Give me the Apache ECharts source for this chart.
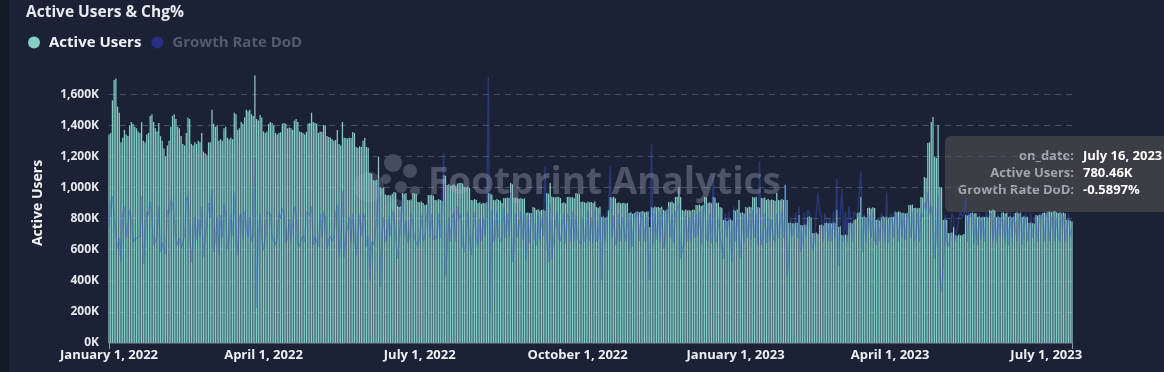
<!DOCTYPE html>
<html>
<head>
<meta charset="utf-8">
<script src="https://cdn.jsdelivr.net/npm/echarts@6/dist/echarts.min.js"></script>
<style>
html,body{margin:0;padding:0;background:#1b2236;}
#chart{width:1164px;height:372px;}
</style>
</head>
<body>
<div id="chart"></div>
<script>
// ---- data ----
const startDate = '2022-01-01';
const dayCount = 562; // Jan 1, 2022 .. Jul 16, 2023
const xTickDates = ['2022-01-01','2022-04-01','2022-07-01','2022-10-01','2023-01-01','2023-04-01','2023-07-01'];
const xTickLabels = ['January 1, 2022','April 1, 2022','July 1, 2022','October 1, 2022','January 1, 2023','April 1, 2023','July 1, 2023'];
const yTickValues = [0,200,400,600,800,1000,1200,1400,1600]; // thousands

// Active users (thousands), one per day
const activeUsers = [
1340,1350,1560,1690,1700,1520,1480,1290,1320,1370,
1340,1330,1400,1420,1410,1390,1380,1360,1350,1420,
1300,1290,1340,1350,1460,1470,1420,1380,1360,1415,
1330,1300,1250,1200,1270,1300,1390,1460,1470,1440,
1390,1380,1330,1280,1270,1350,1450,1440,1280,1270,
1290,1280,1300,1290,1350,1230,1220,1210,1290,1290,
1500,1410,1390,1400,1300,1310,1300,1380,1390,1320,
1310,1320,1310,1480,1470,1370,1380,1420,1410,1450,
1500,1490,1500,1470,1460,1720,1440,1430,1466,1450,
1360,1350,1360,1410,1420,1415,1400,1350,1340,1350,
1355,1410,1415,1410,1380,1385,1380,1370,1430,1440,
1420,1360,1357,1350,1340,1357,1410,1415,1480,1420,
1415,1410,1350,1360,1357,1400,1400,1330,1325,1320,
1310,1300,1305,1370,1280,1270,1420,1320,1318,1315,
1320,1318,1357,1350,1260,1255,1265,1260,1300,1318,
1260,1255,1093,1090,1048,1045,1050,1196,1003,995,
1000,955,950,952,948,960,971,968,880,874,
878,964,960,962,920,918,922,964,960,958,
907,905,910,900,887,890,952,950,955,948,
920,918,925,920,915,1080,1075,1016,1020,1010,
1016,1020,1010,1025,1029,1030,1025,1003,1000,1005,
998,920,918,925,920,900,905,895,900,898,
905,964,960,955,920,918,925,920,915,900,
932,930,935,932,1029,1020,932,935,930,928,
932,925,930,836,840,835,836,874,870,855,
860,850,855,858,852,964,960,1029,940,938,
935,940,938,932,900,905,898,938,940,935,
938,930,964,960,958,907,910,905,900,910,
905,907,900,910,874,870,878,810,815,805,
812,855,938,935,940,930,900,905,898,900,
902,895,900,836,840,830,836,843,845,840,
843,848,840,843,845,746,874,870,878,872,
874,870,876,855,850,858,907,905,910,900,
938,940,1003,938,855,850,858,852,855,850,
858,855,887,885,890,880,887,938,935,900,
905,898,938,935,900,902,874,870,791,795,
785,790,795,788,855,850,858,920,836,840,
832,874,870,878,872,938,935,940,874,870,
932,930,935,920,925,918,922,920,915,964,
920,918,925,920,1016,920,772,775,770,768,
775,772,823,759,755,762,760,810,815,808,
707,705,710,700,759,762,755,772,775,770,
772,768,775,770,855,746,750,694,690,698,
692,772,775,770,791,795,836,840,938,810,
815,808,868,870,865,872,868,791,795,788,
810,815,808,812,805,810,810,812,843,840,
845,843,836,838,832,836,887,885,890,868,
870,865,868,938,935,1067,1060,1286,1290,1420,
1453,1196,1190,1402,1003,1000,791,795,790,707,
705,710,746,694,690,698,692,695,700,823,
820,825,836,838,832,836,810,815,808,812,
810,812,808,855,850,858,852,810,815,808,
836,840,832,838,810,815,808,812,836,840,
832,838,810,815,808,812,772,775,770,768,
823,820,825,823,836,840,832,843,845,840,
843,848,840,836,840,832,838,834,791,795,
788,780.46
];

// Growth rate day over day (%), one per day
const growthRate = [
0,14,18,6,-4,-12,-6,-20,8,12,
-6,-7,10,5,-8,-8,-6,-6,-5,18,
-21,-6,9,7,15,6,-10,-8,-5,12,
-14,-9,-12,-15,10,8,16,14,5,-7,
-10,-6,-12,-11,-5,16,18,-4,-20,-6,
6,-7,5,-6,12,-17,-6,-7,14,5,
22,-14,-6,6,-16,7,-6,14,6,-12,
-6,7,-5,20,-5,-16,6,8,-7,9,
8,-6,6,-8,-5,40,-46,-5,8,-6,
-13,-6,9,10,8,-5,-7,-10,-6,9,
5,11,8,-9,-6,5,-8,-9,12,9,
-9,-11,-7,-5,-8,9,10,7,12,-10,
-5,-8,-11,8,-6,9,6,-12,-7,-5,
-8,-6,8,13,-17,-7,21,-17,-5,-6,
6,-8,8,-6,-16,-5,8,-5,8,5,
-11,-5,-30,-8,-10,-5,7,28,-34,-5,
6,-8,-5,6,-5,9,7,-5,-18,-7,
5,17,-5,4,-9,-6,8,9,-6,-5,
-11,-5,7,-8,-5,6,14,-6,8,-7,
-6,-5,8,-6,-5,43,-28,-12,6,-8,
6,9,-8,12,5,8,-10,-14,-6,9,
-7,-16,-4,9,-6,-11,5,-8,6,-5,
8,86,-49,10,-8,-6,9,-5,-8,-6,
12,-6,8,-5,20,-20,-10,8,-6,-5,
9,-7,8,-19,7,-9,5,9,-6,-10,
8,-7,6,-5,35,-6,-20,14,-18,-6,
-5,9,-6,-8,-7,8,-9,8,6,-8,
9,-8,7,-6,-5,-10,6,-8,-5,10,
-8,6,-9,10,-8,-6,8,-30,7,-8,
8,10,35,-6,7,-10,-7,8,-8,6,
5,-8,9,-14,7,-11,8,6,9,-8,
8,5,-8,6,5,-30,48,-10,8,-7,
9,-8,10,-12,-8,9,12,-6,8,-9,
8,9,14,-18,-17,-8,7,-8,6,-8,
9,-6,8,-5,9,-10,8,14,-6,-8,
8,-9,30,-6,-8,6,-6,-5,-18,8,
-6,9,8,-20,12,-8,9,10,-18,8,
-9,9,-6,8,-7,10,-6,8,-10,38,
-10,-6,8,-9,6,-8,5,-6,-8,8,
-6,-5,9,-6,25,-28,-18,6,-5,-6,
8,-6,12,-14,-8,9,-5,10,8,-7,
-13,-6,8,20,9,6,-8,8,5,-8,
6,-8,9,-6,28,-22,8,22,-8,9,
-8,12,6,-8,9,8,6,6,32,-14,
8,-8,8,6,-6,9,-7,-10,6,-8,
8,5,-8,20,-9,6,8,-6,10,5,
-8,9,-6,8,-7,6,8,-6,9,-8,
-5,9,-8,8,6,14,10,20,8,12,
4,-18,-5,18,-30,-37,-21,7,-8,-11,
-6,8,6,-8,-7,5,9,6,8,18,
-8,9,6,8,-9,5,-10,8,-7,6,
-8,9,6,5,8,-8,6,-9,8,-5,
9,8,-8,6,-10,9,-6,8,9,-8,
6,8,-10,5,8,-8,-9,8,-6,5,
7,-8,6,8,5,-8,9,6,-8,5,
8,-8,6,-5,-8,9,6,-8,-7,8,
-5,-0.5897
];

// ---- build categories ----
const monthNames = ['January','February','March','April','May','June','July','August','September','October','November','December'];
const dates = [];
(function(){
  const d0 = new Date(startDate + 'T00:00:00Z');
  for (let i = 0; i < dayCount; i++) {
    const d = new Date(d0.getTime() + i * 86400000);
    const y = d.getUTCFullYear(), m = d.getUTCMonth() + 1, dd = d.getUTCDate();
    dates.push(y + '-' + String(m).padStart(2,'0') + '-' + String(dd).padStart(2,'0'));
  }
})();
function longDate(s){ const p = s.split('-'); return monthNames[+p[1]-1] + ' ' + (+p[2]) + ', ' + p[0]; }

const FONT = 'Open Sans';
const chart = echarts.init(document.getElementById('chart'), null, {renderer:'canvas'});
const last = dayCount - 1;
const tipFontL = 'bold 13px "Open Sans"';

const option = {
  backgroundColor: '#1b2236',
  animation: false,
  title: {
    text: 'Active Users & Chg%', left: 21, top: 0,
    textStyle: {color:'#e8eaee', fontSize: 15.5, fontWeight: 'bold', fontFamily: FONT}
  },
  legend: {
    left: 23, top: 30, icon: 'circle', itemWidth: 20, itemHeight: 12, itemGap: 10,
    textStyle: {fontSize: 15, fontWeight: 'bold', fontFamily: FONT},
    data: [
      {name: 'Active Users', textStyle: {color: '#f2f4f7'}},
      {name: 'Growth Rate DoD', textStyle: {color: '#545b6d'}}
    ]
  },
  grid: {left: 109, right: 92, top: 63, bottom: 29, containLabel: false},
  xAxis: {
    type: 'category', data: dates, boundaryGap: false,
    axisLine: {show: true, lineStyle: {color: '#4a5163', width: 1}},
    axisTick: {show: true, length: 6, lineStyle: {color: '#8a909c'}, interval: function(i){ return i === 0 || i === last; }},
    axisLabel: {
      color: '#eef0f4', fontSize: 13, fontWeight: 'bold', fontFamily: FONT, margin: 6,
      interval: function(i, v){ return xTickDates.indexOf(v) >= 0; },
      formatter: function(v){ const k = xTickDates.indexOf(v); return k >= 0 ? xTickLabels[k] : ''; }
    },
    splitLine: {show: false}
  },
  yAxis: [
    {
      type: 'value', min: 0, max: 1800, interval: 200,
      name: 'Active Users', nameLocation: 'middle', nameGap: 64, nameRotate: 90,
      nameTextStyle: {color: '#f0f2f5', fontSize: 14, fontWeight: 'bold', fontFamily: FONT},
      axisLine: {show: false}, axisTick: {show: false},
      axisLabel: {
        color: '#e6e8ec', fontSize: 12, fontWeight: 'bold', fontFamily: FONT, margin: 10, showMaxLabel: false,
        formatter: function(v){ return yTickValues.indexOf(v) >= 0 ? v.toLocaleString('en-US') + 'K' : ''; }
      },
      splitLine: {show: true, showMaxLine: false, lineStyle: {color: '#465068', type: [6,5], width: 1}}
    },
    {
      type: 'value', min: -66, max: 94, show: false, splitLine: {show: false}
    }
  ],
  series: [
    {
      name: 'Active Users', type: 'bar', data: activeUsers, yAxisIndex: 0,
      barWidth: 1.25,
      itemStyle: {color: '#86cdc5'},
      silent: true
    },
    {
      name: 'Growth Rate DoD', type: 'line', data: growthRate, yAxisIndex: 1,
      showSymbol: false, symbol: 'none', smooth: false,
      itemStyle: {color: '#262f80'},
      lineStyle: {color: 'rgba(62,86,200,0.42)', width: 1.4},
      silent: true
    }
  ],
  graphic: [
    {type: 'rect', left: 0, top: 0, z: -1, shape: {width: 9, height: 372}, style: {fill: '#141a28'}},
    // watermark
    {type: 'group', left: 354, top: 154, z: 50, children: [
      {type: 'circle', shape: {cx: 14, cy: 38, r: 15}, style: {fill: 'rgba(190,196,210,0.18)'}},
      {type: 'circle', shape: {cx: 38, cy: 14, r: 9}, style: {fill: 'rgba(190,196,210,0.26)'}},
      {type: 'circle', shape: {cx: 55, cy: 22, r: 7}, style: {fill: 'rgba(190,196,210,0.26)'}},
      {type: 'circle', shape: {cx: 46, cy: 38, r: 6}, style: {fill: 'rgba(190,196,210,0.26)'}},
      {type: 'circle', shape: {cx: 31, cy: 30, r: 5}, style: {fill: 'rgba(190,196,210,0.26)'}},
      {type: 'circle', shape: {cx: 60, cy: 42, r: 5}, style: {fill: 'rgba(190,196,210,0.26)'}},
      {type: 'circle', shape: {cx: 42, cy: 56, r: 6}, style: {fill: 'rgba(190,196,210,0.18)'}}
    ]},
    {type: 'text', left: 428, top: 165, z: 50, style: {
      text: 'Footprint Analytics', fill: 'rgba(170,176,190,0.36)', font: 'bold 37px "Open Sans"'
    }},
    // tooltip
    {type: 'group', left: 945, top: 136, z: 100, children: [
      {type: 'rect', shape: {x: 0, y: 0, width: 240, height: 76, r: 6}, style: {fill: 'rgba(62,64,70,0.93)'}},
      {type: 'text', x: 129, y: 20, style: {text: 'on_date:', align: 'right', verticalAlign: 'middle', fill: '#a3a6ad', font: tipFontL}},
      {type: 'text', x: 129, y: 37, style: {text: 'Active Users:', align: 'right', verticalAlign: 'middle', fill: '#a3a6ad', font: tipFontL}},
      {type: 'text', x: 129, y: 54, style: {text: 'Growth Rate DoD:', align: 'right', verticalAlign: 'middle', fill: '#a3a6ad', font: tipFontL}},
      {type: 'text', x: 138, y: 20, style: {text: longDate(dates[last]), align: 'left', verticalAlign: 'middle', fill: '#ffffff', font: tipFontL}},
      {type: 'text', x: 138, y: 37, style: {text: activeUsers[last].toFixed(2) + 'K', align: 'left', verticalAlign: 'middle', fill: '#ffffff', font: tipFontL}},
      {type: 'text', x: 138, y: 54, style: {text: growthRate[last].toFixed(4) + '%', align: 'left', verticalAlign: 'middle', fill: '#ffffff', font: tipFontL}}
    ]}
  ]
};
chart.setOption(option);
</script>
</body>
</html>
